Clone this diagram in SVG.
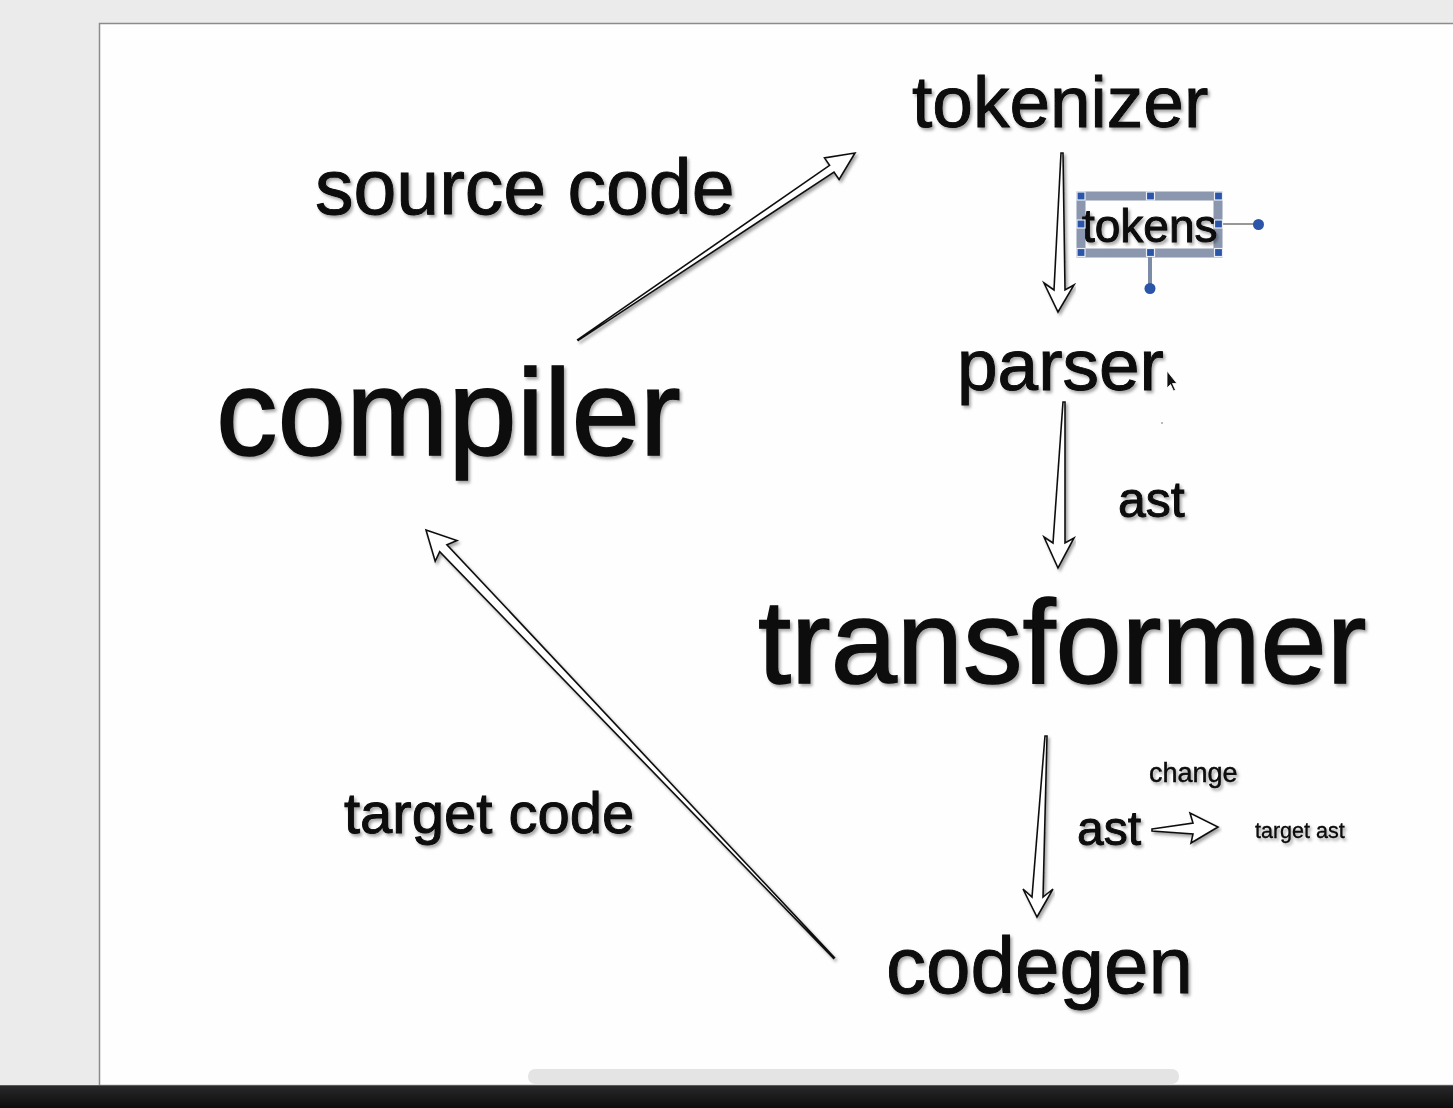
<svg xmlns="http://www.w3.org/2000/svg" width="1453" height="1108" viewBox="0 0 1453 1108">
<defs>
<filter id="sh" x="-5%" y="-10%" width="110%" height="130%">
<feDropShadow dx="2" dy="2.5" stdDeviation="1.5" flood-color="#000" flood-opacity="0.35"/>
</filter>
<linearGradient id="bar" x1="0" y1="0" x2="0" y2="1">
<stop offset="0" stop-color="#2a2a2c"/>
<stop offset="1" stop-color="#0c0c0c"/>
</linearGradient>
</defs>
<style>
.t{font-family:"Liberation Sans",Arial,Helvetica,sans-serif;fill:#080808;stroke:#080808;stroke-width:0.9;filter:url(#sh)}
.b{stroke-width:1.5}
.arr{fill:#ffffff;stroke:#111;stroke-width:1.6;stroke-linejoin:miter;filter:url(#sh)}
.hd{fill:#2a55a8;stroke:#e8ecf4;stroke-width:1.2}
</style>
<rect x="0" y="0" width="1453" height="1108" fill="#ecebeb"/>
<rect x="99.5" y="23.5" width="1360" height="1062" fill="#fefefe" stroke="#8c8c8c" stroke-width="1.5"/>
<rect x="528" y="1069" width="651" height="15" rx="7" fill="#e4e4e4"/>
<rect x="0" y="1085" width="1453" height="23" fill="url(#bar)"/>
<line x1="0" y1="1085.5" x2="1453" y2="1085.5" stroke="#5a5a5a" stroke-width="1"/>

<g id="connectors">
<polygon id="e-compiler-tokenizer" class="arr" points="578.3,340.4 834,172 839.1,179.5 855,153 824.5,157.9 829.6,165.4 577.7,339.6"/>
<polygon id="e-tokenizer-parser" class="arr" points="1061,153 1054,290 1044,283 1058,312 1074,285 1065,290 1063,153"/>
<polygon id="e-parser-transformer" class="arr" points="1063,402 1053,543 1044,537 1058,568 1074,538 1065,543 1065,402"/>
<polygon id="e-transformer-codegen" class="arr" points="1045,736 1032,897 1023,889 1037,917 1053,889 1043,897 1047,736"/>
<polygon id="e-ast-targetast" class="arr" points="1152,829 1193,823 1190,813 1218,827 1191,843 1193,834 1152,831"/>
<polygon id="e-codegen-compiler" class="arr" points="834.4,957.6 446.9,544.7 456.9,540.6 426,530 435.2,561.3 439.7,551.6 833.6,958.4"/>
</g>

<g id="node-compiler"><text class="t b" x="216" y="455" font-size="123">compiler</text></g>
<g id="label-source-code"><text class="t" x="315" y="214" font-size="77">source code</text></g>
<g id="node-tokenizer"><text class="t" x="912" y="127" font-size="73">tokenizer</text></g>
<g id="label-tokens">
<rect x="1081" y="196" width="137" height="57" fill="none" stroke="#7d8ca6" stroke-width="9" opacity="0.9"/>
<line x1="1150" y1="257" x2="1150" y2="286" stroke="#7d8ca6" stroke-width="4"/>
<line x1="1222" y1="224" x2="1256" y2="224" stroke="#333" stroke-width="1.2"/>
<circle cx="1258.5" cy="224.5" r="5.5" fill="#2a55a8"/>
<circle cx="1150" cy="288.5" r="5.5" fill="#2a55a8"/>
<text class="t" x="1082" y="242" font-size="46">tokens</text>
<rect class="hd" x="1077" y="192" width="8" height="8"/>
<rect class="hd" x="1146.5" y="192" width="8" height="8"/>
<rect class="hd" x="1214.5" y="192" width="8" height="8"/>
<rect class="hd" x="1077" y="220" width="8" height="8"/>
<rect class="hd" x="1214.5" y="220" width="8" height="8"/>
<rect class="hd" x="1077" y="248.5" width="8" height="8"/>
<rect class="hd" x="1146.5" y="248.5" width="8" height="8"/>
<rect class="hd" x="1214.5" y="248.5" width="8" height="8"/>
</g>
<g id="node-parser"><text class="t" x="957" y="390" font-size="73">parser</text></g>
<g id="label-ast-1"><text class="t" x="1118" y="517" font-size="50">ast</text></g>
<g id="node-transformer"><text class="t b" x="758" y="683" font-size="119">transformer</text></g>
<g id="label-change"><text class="t" x="1149" y="782" font-size="27" style="stroke-width:0.4">change</text></g>
<g id="label-ast-2"><text class="t" x="1077" y="845" font-size="48">ast</text></g>
<g id="label-target-ast"><text class="t" x="1255" y="838" font-size="21.5" style="stroke-width:0.3">target ast</text></g>
<g id="label-target-code"><text class="t" x="344" y="833" font-size="58">target code</text></g>
<g id="node-codegen"><text class="t" x="886" y="993" font-size="80">codegen</text></g>
<g id="cursor">
<polygon points="1167,371 1167,388 1170.5,384.5 1173.5,391 1175.5,390 1172.5,383.5 1177,383.5" fill="#111" stroke="#fff" stroke-width="0.8"/>
<circle cx="1162" cy="423" r="0.8" fill="#666"/>
</g>
</svg>
